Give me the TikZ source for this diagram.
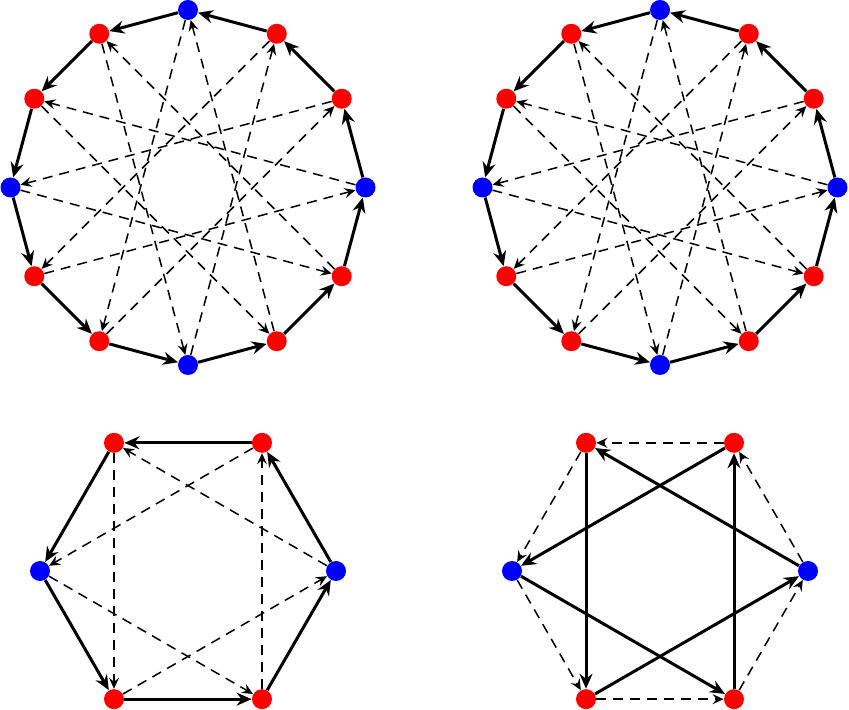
\documentclass[tikz,border=0pt]{standalone}
\usepackage{xcolor}
\usepackage{tikz}
\usetikzlibrary{arrows.meta}
\tikzstyle{dot} = [circle, draw=none, inner sep = 0, minimum size = 10pt]
\tikzstyle{edge} = [-{Stealth[length=7.5pt, width=6.5pt, inset=2.5pt]}, line width=1.5pt]
\tikzstyle{chord} = [-{Stealth[length=5.5pt, width=5pt, inset=2pt]}, line width=0.75pt, dash pattern=on 5pt off 3.5pt]

\begin{document}
\begin{tikzpicture}[x=0.5pt, y=0.5pt]
\useasboundingbox (0,0) rectangle (849,710);
% top left: cycle solid, step 5 dashed
\begin{scope}[shift={(188,522.5)}]
\foreach \k in {0,...,11} {
  \pgfmathtruncatemacro\m{mod(\k,3)}
  \ifnum\m=0 \def\col{blue}\else\def\col{red}\fi
  \node [dot, fill=\col] (a\k) at (\k*30:177.5) {};
}
\foreach \k in {0,...,11} {
  \pgfmathtruncatemacro\n{mod(\k+1,12)}
  \pgfmathtruncatemacro\f{mod(\k+5,12)}
  \draw [edge] (a\k) to (a\n);
  \draw [chord] (a\k) to (a\f);
}
\end{scope}
% top right
\begin{scope}[shift={(660,522.5)}]
\foreach \k in {0,...,11} {
  \pgfmathtruncatemacro\m{mod(\k,3)}
  \ifnum\m=0 \def\col{blue}\else\def\col{red}\fi
  \node [dot, fill=\col] (b\k) at (\k*30:177.5) {};
}
\foreach \k in {0,...,11} {
  \pgfmathtruncatemacro\n{mod(\k+1,12)}
  \pgfmathtruncatemacro\f{mod(\k+5,12)}
  \draw [edge] (b\k) to (b\n);
  \draw [chord] (b\k) to (b\f);
}
\end{scope}
% bottom left: hexagon solid, step 2 dashed
\begin{scope}[shift={(188,139)}]
\foreach \k in {0,...,5} {
  \pgfmathtruncatemacro\m{mod(\k,3)}
  \ifnum\m=0 \def\col{blue}\else\def\col{red}\fi
  \node [dot, fill=\col] (c\k) at (\k*60:148) {};
}
\foreach \k in {0,...,5} {
  \pgfmathtruncatemacro\n{mod(\k+1,6)}
  \pgfmathtruncatemacro\f{mod(\k+2,6)}
  \draw [edge] (c\k) to (c\n);
  \draw [chord] (c\k) to (c\f);
}
\end{scope}
% bottom right: step 2 solid, hexagon dashed
\begin{scope}[shift={(660,139)}]
\foreach \k in {0,...,5} {
  \pgfmathtruncatemacro\m{mod(\k,3)}
  \ifnum\m=0 \def\col{blue}\else\def\col{red}\fi
  \node [dot, fill=\col] (d\k) at (\k*60:148) {};
}
\foreach \k in {0,...,5} {
  \pgfmathtruncatemacro\n{mod(\k+1,6)}
  \pgfmathtruncatemacro\f{mod(\k+2,6)}
  \draw [chord] (d\k) to (d\n);
  \draw [edge] (d\k) to (d\f);
}
\end{scope}
\end{tikzpicture}
\end{document}
